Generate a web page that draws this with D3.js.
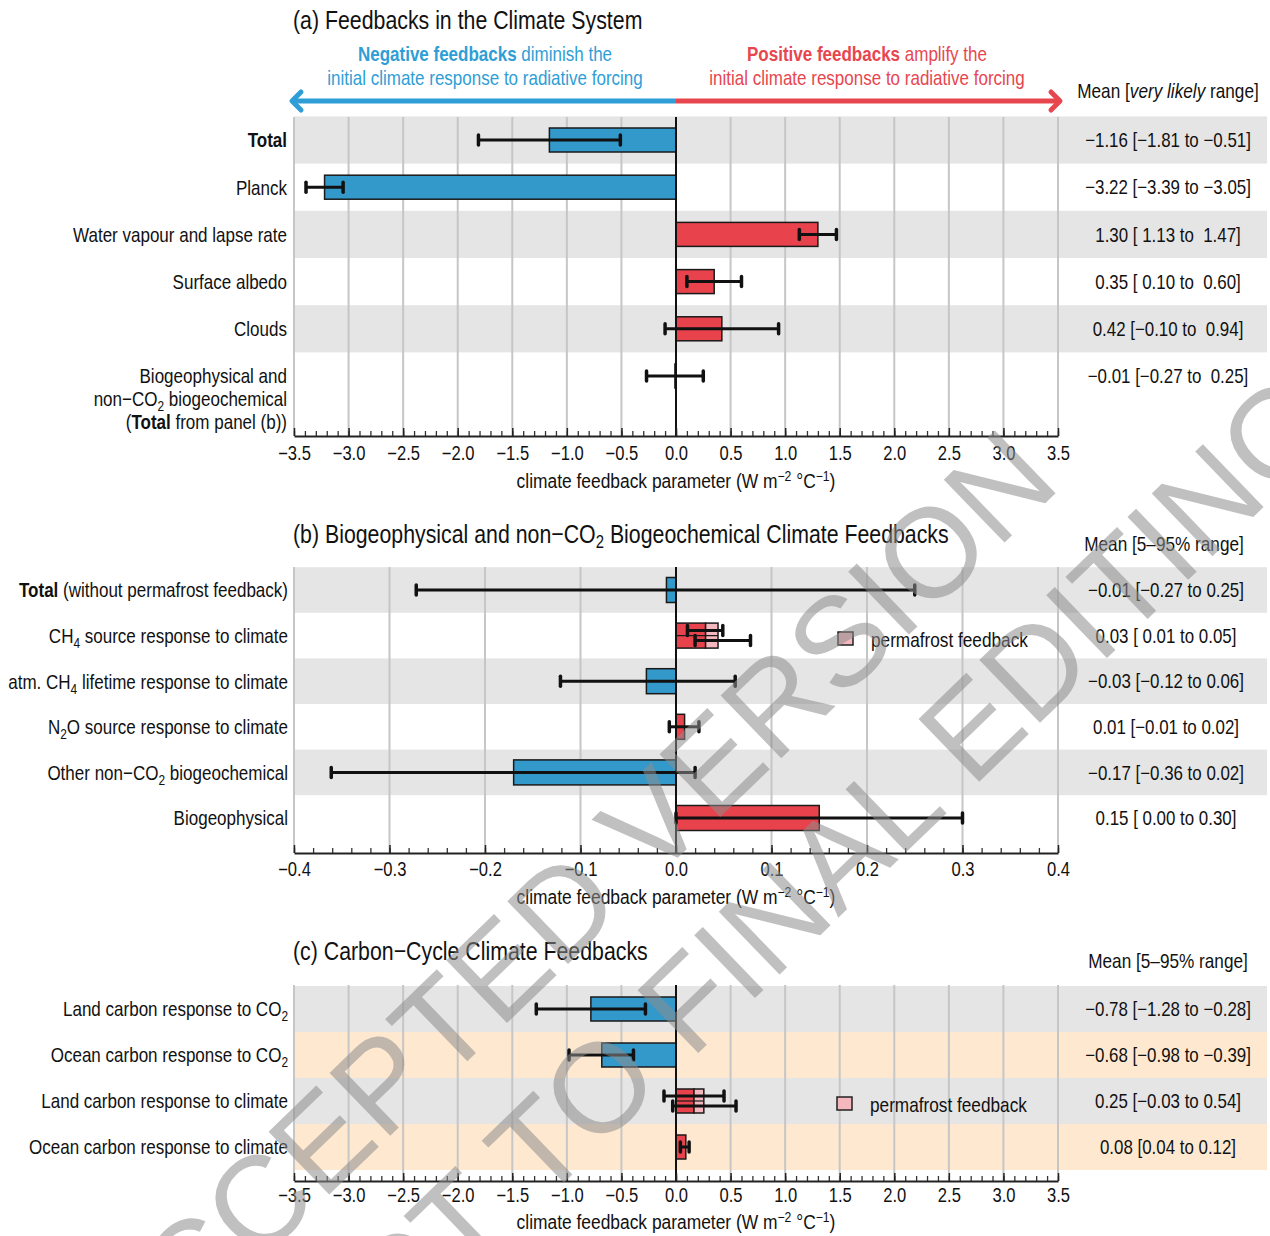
<!DOCTYPE html>
<html><head><meta charset="utf-8">
<script src="https://cdn.jsdelivr.net/npm/d3@7/dist/d3.min.js"></script>
<style>
html,body{margin:0;padding:0;background:#fff;}
svg{display:block;}
text{font-family:"Liberation Sans Narrow","Liberation Sans",Arial,sans-serif;fill:#111;white-space:pre;}
</style></head>
<body>
<svg id="chart" width="1270" height="1236"></svg>
<script>
// ---------------- DATA ----------------
// Panel (a)
const aCategories = ["**Total**", "Planck", "Water vapour and lapse rate", "Surface albedo", "Clouds",
  "Biogeophysical and\nnon−CO_{2} biogeochemical\n(**Total** from panel (b))"];
const aMean = [-1.16, -3.22, 1.30, 0.35, 0.42, -0.01];
const aLow  = [-1.81, -3.39, 1.13, 0.10, -0.10, -0.27];
const aHigh = [-0.51, -3.05, 1.47, 0.60, 0.94, 0.25];
const aRangeLabels = ["−1.16 [−1.81 to −0.51]", "−3.22 [−3.39 to −3.05]", "1.30 [ 1.13 to  1.47]",
  "0.35 [ 0.10 to  0.60]", "0.42 [−0.10 to  0.94]", "−0.01 [−0.27 to  0.25]"];
const aTicks = [-3.5, -3.0, -2.5, -2.0, -1.5, -1.0, -0.5, 0.0, 0.5, 1.0, 1.5, 2.0, 2.5, 3.0, 3.5];

// Panel (b)
const bCategories = ["**Total** (without permafrost feedback)", "CH_{4} source response to climate",
  "atm. CH_{4} lifetime response to climate", "N_{2}O source response to climate",
  "Other non−CO_{2} biogeochemical", "Biogeophysical"];
const bMean = [-0.01, 0.031, -0.031, 0.009, -0.17, 0.15];
const bLow  = [-0.272, 0.012, -0.121, -0.007, -0.361, 0.00];
const bHigh = [0.25, 0.049, 0.062, 0.024, 0.02, 0.30];
// with permafrost feedback (only the CH4 source row)
const bPermaRow = 1;
const bPermaMean = 0.044;
const bPermaLow = 0.02;
const bPermaHigh = 0.078;
const bRangeLabels = ["−0.01 [−0.27 to 0.25]", "0.03 [ 0.01 to 0.05]", "−0.03 [−0.12 to 0.06]",
  "0.01 [−0.01 to 0.02]", "−0.17 [−0.36 to 0.02]", "0.15 [ 0.00 to 0.30]"];
const bTicks = [-0.4, -0.3, -0.2, -0.1, 0.0, 0.1, 0.2, 0.3, 0.4];

// Panel (c)
const cCategories = ["Land carbon response to CO_{2}", "Ocean carbon response to CO_{2}",
  "Land carbon response to climate", "Ocean carbon response to climate"];
const cMean = [-0.78, -0.68, 0.165, 0.09];
const cLow  = [-1.28, -0.98, -0.11, 0.04];
const cHigh = [-0.28, -0.39, 0.44, 0.12];
// with permafrost feedback (only the land carbon response to climate row)
const cPermaRow = 2;
const cPermaMean = 0.255;
const cPermaLow = -0.03;
const cPermaHigh = 0.55;
const cRangeLabels = ["−0.78 [−1.28 to −0.28]", "−0.68 [−0.98 to −0.39]", "0.25 [−0.03 to 0.54]", "0.08 [0.04 to 0.12]"];
const cTicks = [-3.5, -3.0, -2.5, -2.0, -1.5, -1.0, -0.5, 0.0, 0.5, 1.0, 1.5, 2.0, 2.5, 3.0, 3.5];

// ---------------- STYLE ----------------
const BLUE = "#3399cb", RED = "#e8434c", PINK = "#f4b7be";
const GREY_BAND = "#e5e5e5", ORANGE_BAND = "#fee9d0";
const ARROW_BLUE = "#2f9ed6", ARROW_RED = "#e8464f";
const X0 = 294, X1 = 1058, BAND_RIGHT = 1267;

const svg = d3.select("#chart");

function rich(textSel, str) {
  const re = /(\*\*[^*]+\*\*|\*[^*]+\*|_\{[^}]+\}|\^\{[^}]+\})/;
  const parts = str.split(re).filter(s => s !== "");
  let shift = 0;
  parts.forEach(p => {
    let t = p, b = false, it = false, target = 0, small = false;
    if (p.startsWith("**")) { t = p.slice(2, -2); b = true; }
    else if (p.startsWith("*")) { t = p.slice(1, -1); it = true; }
    else if (p.startsWith("_{")) { t = p.slice(2, -1); target = 5; small = true; }
    else if (p.startsWith("^{")) { t = p.slice(2, -1); target = -7; small = true; }
    const ts = textSel.append("tspan").text(t);
    const dy = target - shift;
    if (dy) ts.attr("dy", dy);
    shift = target;
    if (small) ts.attr("font-size", "70%");
    if (b) ts.attr("font-weight", "bold");
    if (it) ts.attr("font-style", "italic");
  });
}

// text drawn with a horizontal squeeze (narrow Helvetica look)
function label(parent, x, y, str, o = {}) {
  const t = parent.append("text")
    .attr("transform", `translate(${x},${y}) scale(${o.sx || 0.83},1)`)
    .attr("font-size", o.size || 20.5)
    .attr("text-anchor", o.anchor || "start");
  if (o.dy) t.attr("dy", o.dy);
  if (o.fill) t.style("fill", o.fill);
  rich(t, str);
  return t;
}

function errorBar(g, x, lo, hi, y) {
  g.append("line").attr("x1", x(lo)).attr("x2", x(hi)).attr("y1", y).attr("y2", y)
    .attr("stroke", "#111").attr("stroke-width", 3);
  [lo, hi].forEach(v => g.append("line").attr("x1", x(v)).attr("x2", x(v))
    .attr("y1", y - 5).attr("y2", y + 5).attr("stroke", "#111").attr("stroke-width", 3.5)
    .attr("stroke-linecap", "round"));
}

function panel(opts) {
  const { domain, ticks, minor, top, rowStep, firstRow, axisY, cats, mean, low, high, labels,
          bandColors, barH, tickFmt, axisTitleY, perma, labelX } = opts;
  const x = d3.scaleLinear().domain(domain).range([X0, X1]);
  const y = i => firstRow + i * rowStep;
  const g = svg.append("g");

  // bands
  cats.forEach((c, i) => {
    const col = bandColors[i % bandColors.length];
    if (col) g.append("rect").attr("x", X0).attr("width", BAND_RIGHT - X0)
      .attr("y", y(i) - rowStep / 2).attr("height", rowStep).attr("fill", col);
  });
  // gridlines
  g.append("g").selectAll("line").data(ticks).join("line")
    .attr("x1", d => x(d)).attr("x2", d => x(d)).attr("y1", top).attr("y2", axisY)
    .attr("stroke", "#c6c6c6").attr("stroke-width", 2);

  // bars
  cats.forEach((c, i) => {
    const v = mean[i];
    g.append("rect").attr("x", Math.min(x(0), x(v))).attr("width", Math.abs(x(v) - x(0)))
      .attr("y", y(i) - barH / 2).attr("height", barH)
      .attr("fill", v < 0 ? BLUE : RED).attr("stroke", "#1a1a1a").attr("stroke-width", 1.5);
  });
  if (perma) {
    const i = perma.row;
    g.append("rect").attr("x", x(mean[i])).attr("width", x(perma.mean) - x(mean[i]))
      .attr("y", y(i) - barH / 2).attr("height", barH)
      .attr("fill", PINK).attr("stroke", "#1a1a1a").attr("stroke-width", 1.5);
    g.append("line").attr("x1", x(0)).attr("x2", x(perma.mean)).attr("y1", y(i)).attr("y2", y(i))
      .attr("stroke", "#1a1a1a").attr("stroke-width", 1.2);
  }
  // zero line
  g.append("line").attr("x1", x(0)).attr("x2", x(0)).attr("y1", top).attr("y2", axisY)
    .attr("stroke", "#111").attr("stroke-width", 2);
  // error bars
  cats.forEach((c, i) => {
    const off = (perma && perma.row === i) ? -5 : 0;
    errorBar(g, x, low[i], high[i], y(i) + off);
  });
  if (perma) errorBar(g, x, perma.low, perma.high, y(perma.row) + 5);

  // axis
  const minorAxis = d3.axisBottom(x).tickValues(minor).tickSize(-5).tickFormat("");
  g.append("g").attr("transform", `translate(0,${axisY})`).call(minorAxis)
    .call(s => s.select(".domain").remove())
    .call(s => s.selectAll("line").attr("stroke", "#333").attr("stroke-width", 1.3));
  const ax = d3.axisBottom(x).tickValues(ticks).tickSize(-8).tickSizeOuter(0).tickPadding(opts.tickPad)
    .tickFormat(tickFmt);
  g.append("g").attr("transform", `translate(0,${axisY})`).call(ax)
    .call(s => s.select(".domain").attr("stroke", "#222").attr("stroke-width", 2))
    .call(s => s.selectAll("line").attr("stroke", "#222").attr("stroke-width", 1.5))
    .call(s => s.selectAll("text").attr("font-size", 19.5).attr("fill", "#111")
      .attr("transform", "scale(0.85,1)")
      .style("font-family", '"Liberation Sans",Arial,sans-serif'));

  // axis title
  label(g, x(0), axisTitleY, "climate feedback parameter (W m^{−2} °C^{−1})",
    { size: 20, sx: 0.87, anchor: "middle" });

  // category labels
  cats.forEach((c, i) => {
    c.split("\n").forEach((line, k) => {
      label(g, labelX, y(i) + k * 23, line, { size: 20.5, sx: 0.83, anchor: "end", dy: "0.36em" });
    });
  });
  // right labels
  labels.forEach((l, i) => {
    label(g, opts.rightX, y(i), l, { size: 20, sx: 0.845, anchor: "middle", dy: "0.36em" });
  });
  return { x, y, g };
}

function legend(xs, ys) {
  svg.append("rect").attr("x", xs).attr("y", ys - 7).attr("width", 15).attr("height", 13)
    .attr("fill", PINK).attr("stroke", "#222").attr("stroke-width", 1.5);
  label(svg, xs + 33, ys, "permafrost feedback", { size: 21, sx: 0.82, dy: "0.36em" });
}

const fmt1 = d => d3.format(".1f")(d);

// ---- Panel (a) ----
label(svg, 293, 29, "(a) Feedbacks in the Climate System", { size: 26, sx: 0.82 });
{
  label(svg, 485, 61, "**Negative feedbacks** diminish the", { size: 21, sx: 0.81, anchor: "middle", fill: ARROW_BLUE });
  label(svg, 485, 85, "initial climate response to radiative forcing", { size: 21, sx: 0.81, anchor: "middle", fill: ARROW_BLUE });
  label(svg, 867, 61, "**Positive feedbacks** amplify the", { size: 21, sx: 0.81, anchor: "middle", fill: ARROW_RED });
  label(svg, 867, 85, "initial climate response to radiative forcing", { size: 21, sx: 0.81, anchor: "middle", fill: ARROW_RED });
  const ay = 101;
  svg.append("line").attr("x1", 293).attr("x2", 676).attr("y1", ay).attr("y2", ay)
    .attr("stroke", ARROW_BLUE).attr("stroke-width", 5);
  svg.append("line").attr("x1", 676).attr("x2", 1059).attr("y1", ay).attr("y2", ay)
    .attr("stroke", ARROW_RED).attr("stroke-width", 5);
  svg.append("path").attr("d", `M301,${ay - 9} L292,${ay} L301,${ay + 9}`).attr("fill", "none")
    .attr("stroke", ARROW_BLUE).attr("stroke-width", 5).attr("stroke-linecap", "round").attr("stroke-linejoin", "round");
  svg.append("path").attr("d", `M1051,${ay - 9} L1060,${ay} L1051,${ay + 9}`).attr("fill", "none")
    .attr("stroke", ARROW_RED).attr("stroke-width", 5).attr("stroke-linecap", "round").attr("stroke-linejoin", "round");
  label(svg, 1168, 98, "Mean [*very likely* range]", { size: 20, sx: 0.86, anchor: "middle" });
}
panel({ domain: [-3.5, 3.5], ticks: aTicks, minor: d3.range(-35, 36).map(d => d / 10),
  top: 117, firstRow: 140, rowStep: 47.2, axisY: 436, cats: aCategories, mean: aMean, low: aLow, high: aHigh,
  labels: aRangeLabels, bandColors: [GREY_BAND, null], barH: 24, tickFmt: fmt1, tickPad: 10,
  axisTitleY: 488, labelX: 287, rightX: 1168 });

// ---- Panel (b) ----
label(svg, 293, 543, "(b) Biogeophysical and non−CO_{2} Biogeochemical Climate Feedbacks", { size: 26, sx: 0.82 });
label(svg, 1164, 551, "Mean [5–95% range]", { size: 20, sx: 0.86, anchor: "middle" });
panel({ domain: [-0.4, 0.4], ticks: bTicks, minor: d3.range(-20, 21).map(d => d / 50),
  top: 567, firstRow: 590, rowStep: 45.6, axisY: 853, cats: bCategories, mean: bMean, low: bLow, high: bHigh,
  labels: bRangeLabels, bandColors: [GREY_BAND, null], barH: 25, tickFmt: fmt1, tickPad: 9,
  axisTitleY: 904, labelX: 288, rightX: 1166,
  perma: { row: bPermaRow, mean: bPermaMean, low: bPermaLow, high: bPermaHigh } });
legend(838, 639);

// ---- Panel (c) ----
label(svg, 293, 960, "(c) Carbon−Cycle Climate Feedbacks", { size: 26, sx: 0.82 });
label(svg, 1168, 968, "Mean [5–95% range]", { size: 20, sx: 0.86, anchor: "middle" });
panel({ domain: [-3.5, 3.5], ticks: cTicks, minor: d3.range(-35, 36).map(d => d / 10),
  top: 985, firstRow: 1009, rowStep: 46, axisY: 1181, cats: cCategories, mean: cMean, low: cLow, high: cHigh,
  labels: cRangeLabels, bandColors: [GREY_BAND, ORANGE_BAND], barH: 24, tickFmt: fmt1, tickPad: 7,
  axisTitleY: 1229, labelX: 288, rightX: 1168,
  perma: { row: cPermaRow, mean: cPermaMean, low: cPermaLow, high: cPermaHigh } });
legend(837, 1104);

// ---- Watermark ----
const wm = svg.append("g").attr("pointer-events", "none");
[["ACCEPTED VERSION", 596, 937], ["SUBJECT TO FINAL EDITING", 722, 1030]].forEach(([txt, cx, cy]) => {
  wm.append("text").attr("transform", `translate(${cx},${cy}) rotate(-44)`)
    .attr("text-anchor", "middle").attr("font-size", 127)
    .style("font-family", '"Liberation Sans",Arial,sans-serif').style("fill", "#8c8c8c")
    .attr("fill-opacity", 0.55).text(txt);
});
</script></body></html>
